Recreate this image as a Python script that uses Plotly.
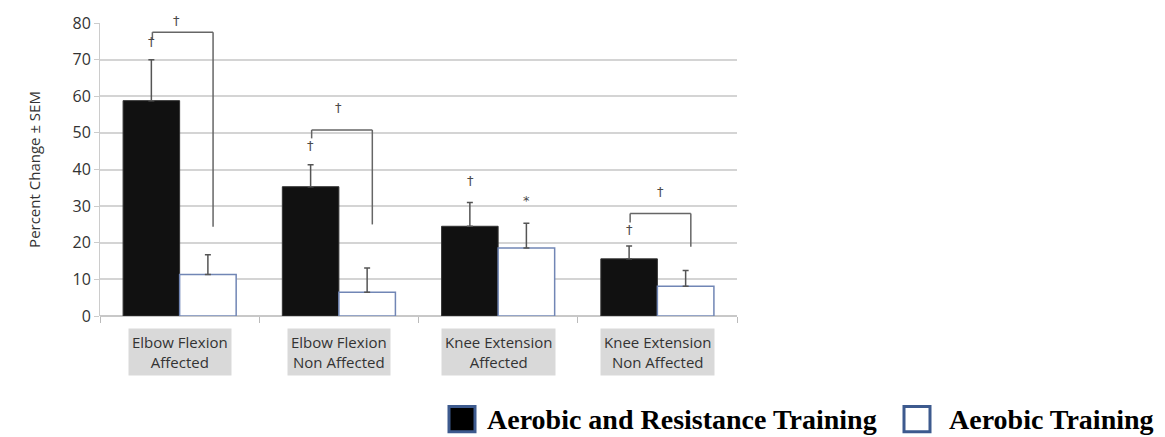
import plotly.graph_objects as go

categories = ["Elbow Flexion<br>Affected", "Elbow Flexion<br>Non Affected",
              "Knee Extension<br>Affected", "Knee Extension<br>Non Affected"]
art_values = [58.8, 35.3, 24.5, 15.6]
art_sem = [11.2, 6.0, 6.5, 3.5]
at_values = [11.3, 6.5, 18.6, 8.1]
at_sem = [5.4, 6.6, 6.7, 4.3]
y_ticks = [0, 10, 20, 30, 40, 50, 60, 70, 80]

# significance markers: (category index, side, y value, symbol)
marks = [(0, "l", 75.0, "†"), (0, "c", 79.9, "†"),
         (1, "l", 46.5, "†"), (1, "c", 57.0, "†"),
         (2, "l", 37.0, "†"), (2, "r", 31.5, "*"),
         (3, "l", 23.5, "†"), (3, "c", 34.0, "†")]
# brackets: (category index, top y, left leg bottom, right leg bottom)
brackets = [(0, 77.5, 75.5, 24.4), (1, 50.8, 48.5, 25.0), (3, 28.0, 25.5, 18.9)]

x = list(range(len(categories)))
OFF = 0.176

fig = go.Figure()
fig.add_trace(go.Bar(
    x=x, y=art_values, name="Aerobic and Resistance Training",
    marker=dict(color="#111111", line=dict(color="#333333", width=1)),
    error_y=dict(type="data", array=art_sem, arrayminus=[0]*4, symmetric=False,
                 color="#555555", thickness=1.5, width=3),
))
fig.add_trace(go.Bar(
    x=x, y=at_values, name="Aerobic Training",
    marker=dict(color="white", line=dict(color="#7186b5", width=1.5)),
    error_y=dict(type="data", array=at_sem, arrayminus=[0]*4, symmetric=False,
                 color="#555555", thickness=1.5, width=3),
))

shapes = []
for ci, top, lb, rb in brackets:
    xl = ci - OFF + 0.005
    xr = ci + 0.21
    line = dict(color="#666666", width=1.5)
    shapes.append(dict(type="line", xref="x", yref="y", x0=xl, x1=xr, y0=top, y1=top, line=line))
    shapes.append(dict(type="line", xref="x", yref="y", x0=xl, x1=xl, y0=top, y1=lb, line=line))
    shapes.append(dict(type="line", xref="x", yref="y", x0=xr, x1=xr, y0=top, y1=rb, line=line))

annotations = []
for ci, side, yv, sym in marks:
    shift = 0
    if side == "l":
        xv = ci - OFF
    elif side == "r":
        xv = ci + OFF
    else:
        xv = ci + 0.0
        if ci == 0:
            xv = ci - 0.02
            shift = 3
        elif ci == 3:
            xv = ci + 0.02
    annotations.append(dict(x=xv, y=yv, xref="x", yref="y", text=sym, showarrow=False,
                            yshift=shift,
                            font=dict(family="DejaVu Sans", size=13, color="#4a4a4a"),
                            xanchor="center", yanchor="middle"))

for i, c in enumerate(categories):
    annotations.append(dict(x=i, y=-0.04, xref="x", yref="paper", text=c, showarrow=False,
                            bgcolor="#d9d9d9", borderpad=3, yanchor="top",
                            align="center",
                            font=dict(family="Open Sans", size=15, color="#333333")))

# legend drawn manually (large swatches)
W, H = 637.0, 301.0
def px(xp):
    return (xp - 100) / W
def py(yp):
    return (316 - yp) / H

shapes.append(dict(type="rect", xref="paper", yref="paper", x0=px(449), x1=px(475),
                   y0=py(435), y1=py(409), fillcolor="black", line=dict(color="#3d5a8e", width=3)))
shapes.append(dict(type="rect", xref="paper", yref="paper", x0=px(904), x1=px(930),
                   y0=py(435), y1=py(409), fillcolor="white", line=dict(color="#3d5a8e", width=3)))
annotations.append(dict(x=px(485), y=py(422), xref="paper", yref="paper",
                        text="<b>Aerobic and Resistance Training</b>", showarrow=False,
                        xanchor="left", yanchor="middle",
                        font=dict(family="Liberation Serif", size=28, color="black")))
annotations.append(dict(x=px(947), y=py(422), xref="paper", yref="paper",
                        text="<b>Aerobic Training</b>", showarrow=False,
                        xanchor="left", yanchor="middle",
                        font=dict(family="Liberation Serif", size=28, color="black")))

fig.update_layout(
    width=1165, height=437,
    margin=dict(l=100, r=428, t=15, b=121),
    paper_bgcolor="white", plot_bgcolor="white",
    barmode="group", bargap=0.29, bargroupgap=0,
    showlegend=False,
    shapes=shapes, annotations=annotations,
    xaxis=dict(range=[-0.5, 3.5], tickvals=[-0.5, 0.5, 1.5, 2.5, 3.5], showticklabels=False,
               ticks="outside", ticklen=6, tickcolor="#bbbbbb", showgrid=False,
               showline=False, zeroline=False),
    yaxis=dict(range=[0, 80], tickvals=y_ticks, ticks="outside", ticklen=5,
               tickcolor="#cccccc", showgrid=True, gridcolor="#d4d4d4", gridwidth=1.5,
               showline=True, linecolor="#cccccc", linewidth=1, zeroline=True,
               zerolinecolor="#c8c8c8", zerolinewidth=1.5,
               tickfont=dict(family="Open Sans", size=16, color="#333333"),
               title=dict(text="Percent Change ± SEM", standoff=28,
                          font=dict(family="Open Sans", size=15, color="#333333"))),
)

fig.write_html("out.html")
